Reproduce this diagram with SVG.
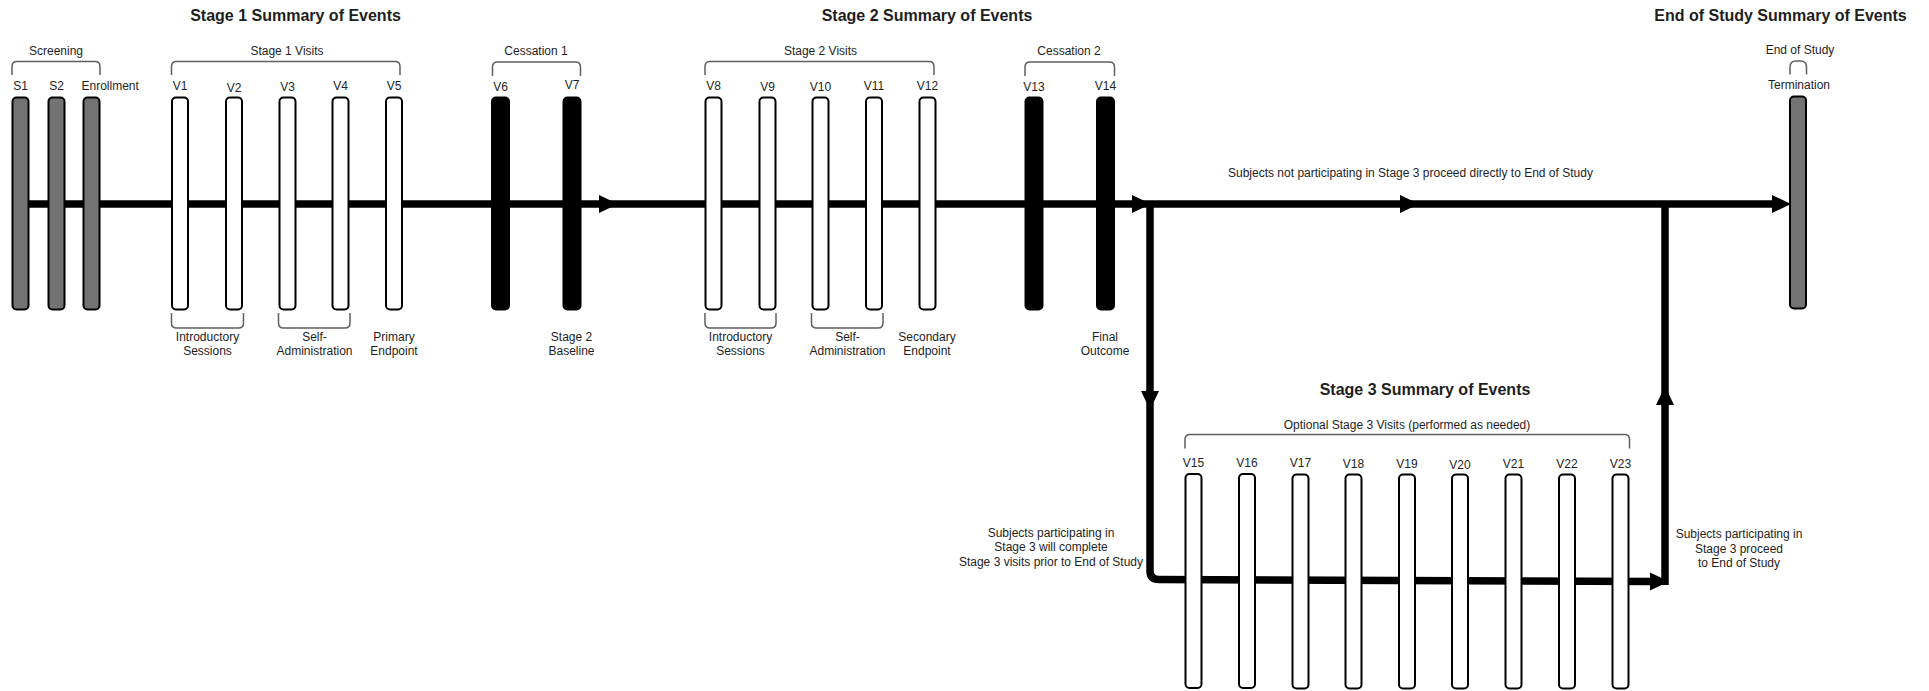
<svg xmlns="http://www.w3.org/2000/svg" width="1929" height="691" viewBox="0 0 1929 691">
<style>
text{font-family:"Liberation Sans",Arial,sans-serif;fill:#1e1e1e}
.t{font-size:16px;font-weight:bold;text-anchor:middle}
.l{font-size:12px;text-anchor:middle}
.s{font-size:12px}
.br{fill:none;stroke:#5f5f5f;stroke-width:1.5}
.gray{fill:#737373;stroke:#000;stroke-width:2}
.white{fill:#fff;stroke:#000;stroke-width:2}
.black{fill:#000;stroke:#000;stroke-width:2}
.c{fill:none;stroke:#000;stroke-width:7.5}
</style>
<defs>
<marker id="ah" markerUnits="userSpaceOnUse" markerWidth="20" markerHeight="20" refX="0" refY="9" orient="auto" overflow="visible">
<path d="M0,0 L19,9 L0,18 z" fill="#000"/>
</marker>
</defs>
<rect width="1929" height="691" fill="#fff"/>

<g id="connectors">
<path class="c" d="M20,204 H599" marker-end="url(#ah)"/>
<path class="c" d="M599,204 H1132" marker-end="url(#ah)"/>
<path class="c" d="M1132,204 H1400" marker-end="url(#ah)"/>
<path class="c" d="M1400,204 H1772" marker-end="url(#ah)"/>
<path class="c" d="M1150,201 V391" marker-end="url(#ah)"/>
<path class="c" d="M1150,390 V571 Q1150,579.5 1159,579.5 L1650,581.5" marker-end="url(#ah)"/>
<path class="c" d="M1665,585 V405" marker-end="url(#ah)"/>
<path class="c" d="M1665,406 V201"/>
</g>

<g id="titles">
<text class="t" x="295.5" y="21">Stage 1 Summary of Events</text>
<text class="t" x="927" y="21">Stage 2 Summary of Events</text>
<text class="t" x="1780.5" y="21">End of Study Summary of Events</text>
<text class="t" x="1425" y="395">Stage 3 Summary of Events</text>
</g>

<g id="brackets">
<path class="br" d="M12,75 V66.5 Q12,61.5 17,61.5 H95 Q100,61.5 100,66.5 V75"/>
<text class="l" x="56" y="55">Screening</text>
<path class="br" d="M171.5,75 V66.5 Q171.5,61.5 176.5,61.5 H395 Q400,61.5 400,66.5 V75"/>
<text class="l" x="287" y="55">Stage 1 Visits</text>
<path class="br" d="M492.5,76 V67 Q492.5,62 497.5,62 H575.5 Q580.5,62 580.5,67 V76"/>
<text class="l" x="536" y="55">Cessation 1</text>
<path class="br" d="M705,75 V66.5 Q705,61.5 710,61.5 H929 Q934,61.5 934,66.5 V75"/>
<text class="l" x="820.5" y="55">Stage 2 Visits</text>
<path class="br" d="M1025,76 V67 Q1025,62 1030,62 H1109.5 Q1114.5,62 1114.5,67 V76"/>
<text class="l" x="1069" y="55">Cessation 2</text>
<path class="br" d="M1790,74.5 V67 Q1790,61 1796,61 H1800.5 Q1806.5,61 1806.5,67 V74.5"/>
<text class="l" x="1800" y="54">End of Study</text>
<path class="br" d="M1185,448.5 V439.5 Q1185,434.5 1190,434.5 H1624.5 Q1629.5,434.5 1629.5,439.5 V448.5"/>
<text class="l" x="1407" y="429">Optional Stage 3 Visits (performed as needed)</text>

<path class="br" d="M171.5,313 V323 Q171.5,328 176.5,328 H238.5 Q243.5,328 243.5,323 V313"/>
<text class="l" x="207.5" y="341">Introductory</text>
<text class="l" x="207.5" y="355">Sessions</text>
<path class="br" d="M278.5,313 V323 Q278.5,328 283.5,328 H345 Q350,328 350,323 V313"/>
<text class="l" x="314.5" y="341">Self-</text>
<text class="l" x="314.5" y="355">Administration</text>
<text class="l" x="394" y="341">Primary</text>
<text class="l" x="394" y="355">Endpoint</text>
<text class="l" x="571.5" y="341">Stage 2</text>
<text class="l" x="571.5" y="355">Baseline</text>

<path class="br" d="M705,313 V323 Q705,328 710,328 H771 Q776,328 776,323 V313"/>
<text class="l" x="740.5" y="341">Introductory</text>
<text class="l" x="740.5" y="355">Sessions</text>
<path class="br" d="M811.5,313 V323 Q811.5,328 816.5,328 H878 Q883,328 883,323 V313"/>
<text class="l" x="847.5" y="341">Self-</text>
<text class="l" x="847.5" y="355">Administration</text>
<text class="l" x="927" y="341">Secondary</text>
<text class="l" x="927" y="355">Endpoint</text>
<text class="l" x="1105" y="341">Final</text>
<text class="l" x="1105" y="355">Outcome</text>
</g>

<g id="notes">
<text class="s" x="1228" y="177">Subjects not participating in Stage 3 proceed directly to End of Study</text>
<text class="l" x="1051" y="537">Subjects participating in</text>
<text class="l" x="1051" y="551">Stage 3 will complete</text>
<text class="l" x="1051" y="565.5">Stage 3 visits prior to End of Study</text>
<text class="l" x="1739" y="538">Subjects participating in</text>
<text class="l" x="1739" y="552.5">Stage 3 proceed</text>
<text class="l" x="1739" y="566.5">to End of Study</text>
</g>

<g id="S1"><rect class="gray" x="12.5" y="97.5" width="16" height="212" rx="4"/><text class="l" x="20.5" y="90">S1</text></g>
<g id="S2"><rect class="gray" x="48.5" y="97.5" width="16" height="212" rx="4"/><text class="l" x="56.5" y="90">S2</text></g>
<g id="Enrollment"><rect class="gray" x="83.5" y="97.5" width="16" height="212" rx="4"/><text class="s" x="81.5" y="90">Enrollment</text></g>
<g id="V1"><rect class="white" x="172" y="97.5" width="16" height="212" rx="4"/><text class="l" x="180" y="90">V1</text></g>
<g id="V2"><rect class="white" x="226" y="97.5" width="16" height="212" rx="4"/><text class="l" x="234" y="91.5">V2</text></g>
<g id="V3"><rect class="white" x="279.5" y="97.5" width="16" height="212" rx="4"/><text class="l" x="287.5" y="91">V3</text></g>
<g id="V4"><rect class="white" x="332.5" y="97.5" width="16" height="212" rx="4"/><text class="l" x="340.5" y="90">V4</text></g>
<g id="V5"><rect class="white" x="386" y="97.5" width="16" height="212" rx="4"/><text class="l" x="394" y="90">V5</text></g>
<g id="V6"><rect class="black" x="492" y="97.5" width="17" height="212" rx="4"/><text class="l" x="500.5" y="90.5">V6</text></g>
<g id="V7"><rect class="black" x="563.5" y="97.5" width="17" height="212" rx="4"/><text class="l" x="572" y="88.5">V7</text></g>

<g id="V8"><rect class="white" x="705.5" y="97.5" width="16" height="212" rx="4"/><text class="l" x="713.5" y="90">V8</text></g>
<g id="V9"><rect class="white" x="759.5" y="97.5" width="16" height="212" rx="4"/><text class="l" x="767.5" y="91">V9</text></g>
<g id="V10"><rect class="white" x="812.5" y="97.5" width="16" height="212" rx="4"/><text class="l" x="820.5" y="91">V10</text></g>
<g id="V11"><rect class="white" x="866" y="97.5" width="16" height="212" rx="4"/><text class="l" x="874" y="90">V11</text></g>
<g id="V12"><rect class="white" x="919.5" y="97.5" width="16" height="212" rx="4"/><text class="l" x="927.5" y="90">V12</text></g>
<g id="V13"><rect class="black" x="1025.5" y="97.5" width="17" height="212" rx="4"/><text class="l" x="1034" y="91">V13</text></g>
<g id="V14"><rect class="black" x="1097" y="97.5" width="17" height="212" rx="4"/><text class="l" x="1105.5" y="89.5">V14</text></g>

<g id="Termination"><rect class="gray" x="1790" y="96.5" width="16" height="212" rx="4"/><text class="l" x="1799" y="89">Termination</text></g>

<g id="V15"><rect class="white" x="1185.5" y="474" width="16" height="214" rx="4"/><text class="l" x="1193.5" y="466.5">V15</text></g>
<g id="V16"><rect class="white" x="1239" y="474" width="16" height="214" rx="4"/><text class="l" x="1247" y="466.5">V16</text></g>
<g id="V17"><rect class="white" x="1292.5" y="474.5" width="16" height="214" rx="4"/><text class="l" x="1300.5" y="467">V17</text></g>
<g id="V18"><rect class="white" x="1345.5" y="474.5" width="16" height="214" rx="4"/><text class="l" x="1353.5" y="467.5">V18</text></g>
<g id="V19"><rect class="white" x="1399" y="474.5" width="16" height="214" rx="4"/><text class="l" x="1407" y="467.5">V19</text></g>
<g id="V20"><rect class="white" x="1452" y="474.5" width="16" height="214" rx="4"/><text class="l" x="1460" y="468.5">V20</text></g>
<g id="V21"><rect class="white" x="1505.5" y="474.5" width="16" height="214" rx="4"/><text class="l" x="1513.5" y="467.5">V21</text></g>
<g id="V22"><rect class="white" x="1559" y="474.5" width="16" height="214" rx="4"/><text class="l" x="1567" y="467.5">V22</text></g>
<g id="V23"><rect class="white" x="1612.5" y="474.5" width="16" height="214" rx="4"/><text class="l" x="1620.5" y="467.5">V23</text></g>
</svg>
